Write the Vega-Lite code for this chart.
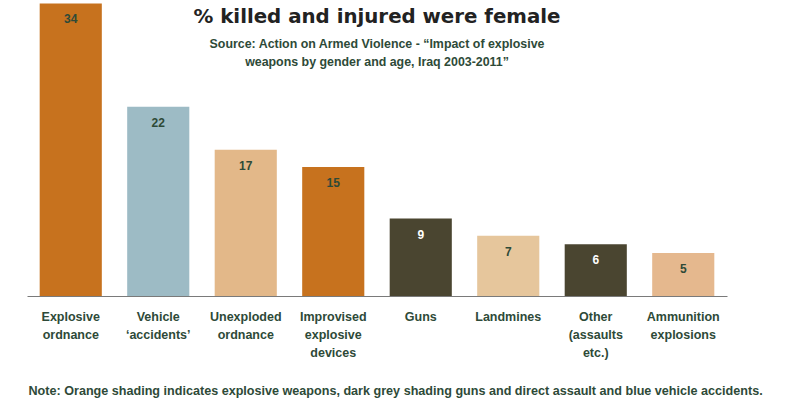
{
  "$schema": "https://vega.github.io/schema/vega-lite/v6.json",
  "width": 700,
  "height": 296,
  "autosize": {"type": "none"},
  "padding": {"left": 27, "top": 0, "right": 73, "bottom": 104},
  "background": "white",
  "title": {
    "text": "% killed and injured were female",
    "subtitle": ["Source: Action on Armed Violence - “Impact of explosive", "weapons by gender and age, Iraq 2003-2011”"],
    "anchor": "middle",
    "font": "DejaVu Sans",
    "fontSize": 19.8,
    "fontWeight": "bold",
    "color": "#222222",
    "subtitleFont": "Liberation Sans",
    "subtitleFontSize": 12.4,
    "subtitleFontWeight": "bold",
    "subtitleColor": "#2E4A38",
    "subtitleLineHeight": 18,
    "subtitlePadding": 11,
    "offset": 0,
    "dy": 68
  },
  "data": {
    "values": [
      {"category": "Explosive|ordnance", "value": 34},
      {"category": "Vehicle|‘accidents’", "value": 22},
      {"category": "Unexploded|ordnance", "value": 17},
      {"category": "Improvised|explosive|devices", "value": 15},
      {"category": "Guns", "value": 9},
      {"category": "Landmines", "value": 7},
      {"category": "Other|(assaults|etc.)", "value": 6},
      {"category": "Ammunition|explosions", "value": 5}
    ]
  },
  "encoding": {
    "x": {
      "field": "category",
      "type": "nominal",
      "sort": null,
      "scale": {"paddingInner": 0.29, "paddingOuter": 0.145},
      "axis": {
        "title": "Note: Orange shading indicates explosive weapons, dark grey shading guns and direct assault and blue vehicle accidents.",
        "titleFont": "Liberation Sans",
        "titleFontSize": 12.6,
        "titleFontWeight": "bold",
        "titleColor": "#2E4A38",
        "titleAnchor": "start",
        "titleAlign": "left",
        "titleBaseline": "middle",
        "titleX": 1,
        "titleY": 94,
        "labelExpr": "split(datum.label, '|')",
        "labelAngle": 0,
        "labelFont": "Liberation Sans",
        "labelFontSize": 12.5,
        "labelFontWeight": "bold",
        "labelColor": "#2E4A38",
        "labelLineHeight": 18,
        "labelPadding": 14,
        "labelBaseline": "top",
        "ticks": false,
        "domainColor": "#7a7a7a",
        "domainWidth": 1
      }
    },
    "y": {
      "field": "value",
      "type": "quantitative",
      "scale": {"domain": [0, 34.4], "nice": false},
      "axis": null
    }
  },
  "layer": [
    {
      "mark": {"type": "bar"},
      "encoding": {
        "color": {
          "field": "category",
          "type": "nominal",
          "legend": null,
          "scale": {
            "domain": ["Explosive|ordnance", "Vehicle|‘accidents’", "Unexploded|ordnance", "Improvised|explosive|devices", "Guns", "Landmines", "Other|(assaults|etc.)", "Ammunition|explosions"],
            "range": ["#C7721E", "#9DBBC5", "#E3B889", "#C7721E", "#4A4530", "#E6C69C", "#4A4530", "#E5B88E"]
          }
        }
      }
    },
    {
      "mark": {"type": "text", "baseline": "middle", "dy": 16, "font": "Liberation Sans", "fontSize": 12, "fontWeight": "bold"},
      "encoding": {
        "text": {"field": "value", "type": "quantitative"},
        "color": {
          "condition": {"test": "datum.category === 'Guns' || datum.category === 'Other|(assaults|etc.)'", "value": "#ffffff"},
          "value": "#2E4A38"
        }
      }
    }
  ],
  "config": {"view": {"stroke": null}}
}
